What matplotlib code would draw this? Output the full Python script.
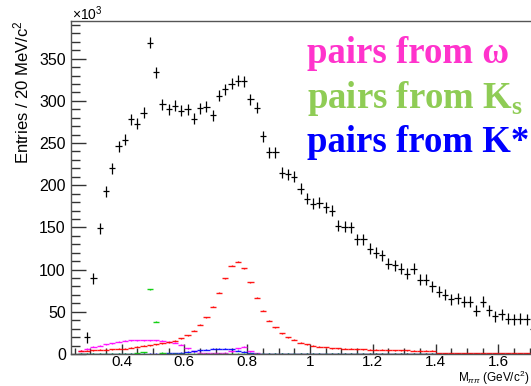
import numpy as np
import matplotlib
matplotlib.use('Agg')
import matplotlib.pyplot as plt
from matplotlib.ticker import MultipleLocator

plt.rcParams['font.family'] = ['Liberation Sans', 'DejaVu Sans']
plt.rcParams['mathtext.fontset'] = 'custom'
plt.rcParams['mathtext.rm'] = 'Liberation Sans'
plt.rcParams['mathtext.it'] = 'Liberation Sans:italic'
plt.rcParams['mathtext.bf'] = 'Liberation Serif:bold'

# data: all pairs (x10^3 entries per 20 MeV bin)
m_data = np.round(np.arange(0.29, 1.72, 0.02), 2)
n_data = [20, 90, 149, 193, 220, 246, 254, 278, 273, 286,
          369, 334, 296, 290, 294, 288, 290, 279, 291, 293,
          283, 306, 314, 320, 324, 323, 302, 292, 258, 239,
          239, 215, 213, 210, 196, 184, 178, 179, 174, 170,
          152, 151, 150, 136, 136, 125, 120, 117, 107, 105,
          101, 95, 101, 88, 88, 80, 74, 70, 65, 66,
          62, 62, 51, 62, 52, 45, 47, 42, 41, 42,
          41, 30]

# components
m_comp = np.round(np.arange(0.27, 1.72, 0.02), 2)
n_red = [4, 4, 4.5, 5, 5, 5.5, 6, 6.5, 7.5, 8.5,
         9.5, 10.5, 11.5, 13, 14, 15.5, 18.6, 22.5, 27.6, 34.4,
         43.5, 56, 72.7, 89.8, 104.4, 109.5, 101.7, 85, 66.8, 51.5,
         39.5, 31.6, 24.5, 19.8, 16.6, 13.4, 11.5, 9.5, 8.7, 7.9,
         7.1, 6.7, 6.2, 6.0, 5.8, 5.5, 5.2, 5.0, 4.8, 4.6,
         4.5, 4.3, 4.2, 4.0, 3.9, 3.8, 3.7, 1.0, 1.0, 0.9,
         0.9, 0.8, 0.8, 0.8, 0.7, 0.7, 0.7, 0.6, 0.6, 0.6,
         0.6, 0.6, 0.5]
n_omega = [4, 6, 8.5, 10, 11.5, 13, 14.5, 15.5, 16, 16.5,
           16.5, 16.5, 16, 15.5, 14.5, 13.5, 11, 7, 3.5, 1.5,
           0.8, 0.8, 1, 1.5, 3, 7, 8.5, 3, 1, 0.5,
           0.4, 0.4, 0.3, 0.3, 0.3, 0.3, 0.3, 0.3, 0.3, 0.3,
           0.3, 0.3, 0.3, 0.3, 0.3, 0.3, 0.3, 0.3, 0.3, 0.3,
           0.3, 0.3, 0.3, 0.3, 0.3, 0.3, 0.3, 0.3, 0.3, 0.3,
           0.3, 0.3, 0.3, 0.3, 0.3, 0.3, 0.3, 0.3, 0.3, 0.3,
           0.3, 0.3, 0.3]
n_ks = [0, 0, 0, 0, 0, 0, 0.2, 0.3, 0.5, 1,
        2, 77, 38, 1.5, 0.5, 0.3, 0.2, 0, 0, 0,
        0, 0, 0, 0, 0, 0, 0, 0, 0, 0,
        0, 0, 0, 0, 0, 0, 0, 0, 0, 0,
        0, 0, 0, 0, 0, 0, 0, 0, 0, 0,
        0, 0, 0, 0, 0, 0, 0, 0, 0, 0,
        0, 0, 0, 0, 0, 0, 0, 0, 0, 0,
        0, 0, 0]
n_kstar = [0.3, 0.3, 0.3, 0.3, 0.3, 0.3, 0.3, 0.3, 0.3, 0.3,
           0.3, 0.3, 0.4, 0.5, 0.7, 1.0, 1.5, 2.5, 3.5, 4.5,
           5, 6, 6.5, 6.5, 5.5, 4, 2.5, 1, 0.4, 0.3,
           0.2, 0.2, 0.2, 0.2, 0.2, 0.2, 0.2, 0.2, 0.2, 0.2,
           0.2, 0.2, 0.2, 0.2, 0.2, 0.2, 0.2, 0.2, 0.2, 0.2,
           0.2, 0.2, 0.2, 0.2, 0.2, 0.2, 0.2, 0.2, 0.2, 0.2,
           0.2, 0.2, 0.2, 0.2, 0.2, 0.2, 0.2, 0.2, 0.2, 0.2,
           0.2, 0.2, 0.2]

labels = ['pairs from ω', 'pairs from K$_\\mathbf{s}$', 'pairs from K*']
label_colors = ['#ff33cc', '#8fcc55', '#0000ff']

fig = plt.figure(figsize=(5.31, 3.86), dpi=100)
ax = fig.add_axes([0.1345, 0.0829, 0.875, 0.8635])

for vals, col in [(n_omega, '#ff00ff'), (n_kstar, '#0000ff'), (n_ks, '#00cc00'), (n_red, '#ff0000')]:
    ax.errorbar(m_comp, vals, xerr=0.01, yerr=0.6, fmt='none', ecolor=col,
                elinewidth=1.0, alpha=0.9)

ax.errorbar(m_data, n_data, xerr=0.01, yerr=6.5, fmt='none', ecolor='black',
            elinewidth=0.9)

ax.set_xlim(0.24, 1.72)
ax.set_ylim(0, 395)

ax.xaxis.set_major_locator(MultipleLocator(0.2))
ax.xaxis.set_minor_locator(MultipleLocator(0.05))
ax.yaxis.set_major_locator(MultipleLocator(50))
ax.yaxis.set_minor_locator(MultipleLocator(10))
ax.tick_params(axis='both', which='both', direction='in', top=False, right=False,
               colors='#333333', labelcolor='black', labelsize=11.5)
ax.tick_params(axis='y', which='major', length=11, width=1.0, pad=4)
ax.tick_params(axis='y', which='minor', length=6.5, width=1.0)
ax.tick_params(axis='x', which='major', length=7, width=1.0, pad=0.5, labelsize=11)
ax.tick_params(axis='x', which='minor', length=4, width=1.0)
ax.set_xticks([0.4, 0.6, 0.8, 1.0, 1.2, 1.4, 1.6])
ax.set_xticklabels(['0.4', '0.6', '0.8', '1', '1.2', '1.4', '1.6'])
for s in ax.spines.values():
    s.set_color('#555555')
    s.set_linewidth(1.0)

fig.text(72 / 531, 1 - 20 / 386, r'$\times$10$^{3}$', fontsize=10, ha='left', va='baseline')
fig.text(21 / 531, 1 - 20 / 386, 'Entries / 20 MeV/c$^{2}$', fontsize=12,
         rotation=90, ha='center', va='top')
fig.text(529 / 531, 1 - 382 / 386, r'M$_{\pi\pi}$ (GeV/c$^{2}$)', fontsize=8.5,
         ha='right', va='baseline')

for i, (lab, col) in enumerate(zip(labels, label_colors)):
    fig.text(307 / 531, 1 - (63 + 44.5 * i) / 386, lab, fontsize=26.5, color=col,
             family='Liberation Serif', fontweight='bold', ha='left', va='baseline')

fig.savefig('out.png', dpi=100)
